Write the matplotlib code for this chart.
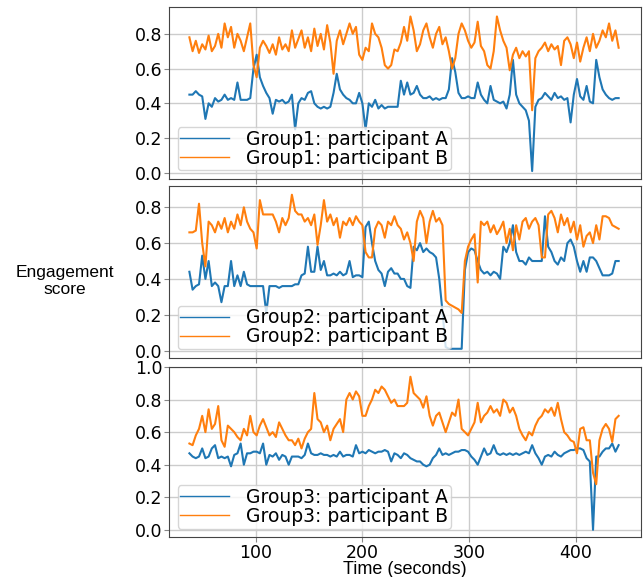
import numpy as np
import matplotlib
matplotlib.use("Agg")
import matplotlib.pyplot as plt

# sampling times (seconds), one value every 3 s
t = np.arange(38, 441, 3)

# Group 1
g1_a = [0.45, 0.45, 0.47, 0.45, 0.44, 0.31, 0.40, 0.38, 0.43, 0.41,
        0.42, 0.45, 0.42, 0.43, 0.42, 0.52, 0.42, 0.42, 0.42, 0.43,
        0.60, 0.68, 0.55, 0.50, 0.46, 0.43, 0.34, 0.42, 0.41, 0.42,
        0.40, 0.41, 0.45, 0.25, 0.40, 0.43, 0.42, 0.46, 0.47, 0.40,
        0.38, 0.37, 0.38, 0.37, 0.38, 0.46, 0.57, 0.48, 0.45, 0.43,
        0.42, 0.40, 0.40, 0.46, 0.40, 0.25, 0.40, 0.38, 0.42, 0.37,
        0.39, 0.37, 0.38, 0.38, 0.38, 0.38, 0.53, 0.45, 0.52, 0.45,
        0.46, 0.50, 0.45, 0.43, 0.43, 0.44, 0.42, 0.43, 0.42, 0.43,
        0.43, 0.48, 0.66, 0.58, 0.46, 0.43, 0.43, 0.44, 0.43, 0.43,
        0.52, 0.45, 0.42, 0.40, 0.50, 0.42, 0.41, 0.40, 0.41, 0.37,
        0.45, 0.65, 0.45, 0.40, 0.38, 0.36, 0.30, 0.01, 0.38, 0.42,
        0.43, 0.46, 0.44, 0.42, 0.46, 0.43, 0.44, 0.42, 0.43, 0.29,
        0.45, 0.54, 0.44, 0.42, 0.50, 0.41, 0.40, 0.65, 0.55, 0.48,
        0.45, 0.43, 0.42, 0.43, 0.43]
g1_b = [0.78, 0.70, 0.76, 0.69, 0.74, 0.71, 0.79, 0.70, 0.73, 0.80,
        0.72, 0.86, 0.78, 0.84, 0.72, 0.80, 0.76, 0.70, 0.78, 0.86,
        0.62, 0.55, 0.72, 0.76, 0.73, 0.69, 0.74, 0.68, 0.78, 0.71,
        0.74, 0.70, 0.82, 0.72, 0.77, 0.82, 0.72, 0.78, 0.70, 0.83,
        0.73, 0.80, 0.71, 0.85, 0.75, 0.57, 0.76, 0.82, 0.74, 0.80,
        0.86, 0.80, 0.84, 0.68, 0.65, 0.72, 0.70, 0.86, 0.80, 0.78,
        0.72, 0.62, 0.60, 0.62, 0.71, 0.70, 0.75, 0.84, 0.76, 0.90,
        0.82, 0.70, 0.74, 0.82, 0.86, 0.78, 0.72, 0.80, 0.84, 0.74,
        0.78, 0.70, 0.60, 0.66, 0.80, 0.86, 0.82, 0.76, 0.72, 0.75,
        0.87, 0.73, 0.70, 0.62, 0.60, 0.70, 0.90, 0.82, 0.76, 0.72,
        0.59, 0.68, 0.72, 0.66, 0.70, 0.67, 0.70, 0.36, 0.66, 0.70,
        0.72, 0.75, 0.70, 0.74, 0.71, 0.73, 0.62, 0.76, 0.78, 0.74,
        0.66, 0.75, 0.64, 0.72, 0.78, 0.70, 0.80, 0.72, 0.76, 0.82,
        0.78, 0.86, 0.76, 0.82, 0.72]

# Group 2
g2_a = [0.44, 0.34, 0.36, 0.37, 0.53, 0.40, 0.50, 0.36, 0.38, 0.36,
        0.27, 0.36, 0.36, 0.50, 0.36, 0.42, 0.36, 0.44, 0.37, 0.36,
        0.36, 0.36, 0.36, 0.36, 0.21, 0.36, 0.36, 0.36, 0.35, 0.36,
        0.36, 0.36, 0.36, 0.37, 0.37, 0.42, 0.43, 0.58, 0.44, 0.44,
        0.58, 0.45, 0.50, 0.42, 0.42, 0.43, 0.42, 0.44, 0.42, 0.43,
        0.50, 0.41, 0.42, 0.42, 0.41, 0.69, 0.72, 0.60, 0.50, 0.45,
        0.43, 0.36, 0.44, 0.46, 0.43, 0.43, 0.40, 0.40, 0.36, 0.35,
        0.58, 0.56, 0.60, 0.55, 0.57, 0.55, 0.54, 0.52, 0.40, 0.22,
        0.02, 0.01, 0.01, 0.01, 0.01, 0.01, 0.45, 0.55, 0.57, 0.56,
        0.50, 0.45, 0.43, 0.44, 0.42, 0.44, 0.43, 0.40, 0.58, 0.55,
        0.60, 0.70, 0.55, 0.50, 0.50, 0.48, 0.52, 0.50, 0.50, 0.50,
        0.50, 0.75, 0.58, 0.55, 0.50, 0.48, 0.52, 0.50, 0.60, 0.62,
        0.58, 0.50, 0.44, 0.50, 0.44, 0.52, 0.52, 0.50, 0.46, 0.42,
        0.42, 0.42, 0.43, 0.50, 0.50]
g2_b = [0.66, 0.66, 0.67, 0.82, 0.60, 0.47, 0.72, 0.70, 0.66, 0.72,
        0.68, 0.74, 0.66, 0.72, 0.68, 0.76, 0.70, 0.80, 0.72, 0.68,
        0.66, 0.57, 0.84, 0.76, 0.76, 0.76, 0.76, 0.72, 0.66, 0.74,
        0.70, 0.74, 0.87, 0.78, 0.76, 0.76, 0.72, 0.74, 0.70, 0.76,
        0.59, 0.70, 0.84, 0.72, 0.76, 0.70, 0.74, 0.63, 0.72, 0.70,
        0.74, 0.70, 0.75, 0.72, 0.70, 0.55, 0.52, 0.52, 0.68, 0.72,
        0.70, 0.63, 0.72, 0.70, 0.75, 0.70, 0.68, 0.62, 0.66, 0.60,
        0.50, 0.72, 0.78, 0.74, 0.60, 0.72, 0.78, 0.72, 0.74, 0.70,
        0.28, 0.26, 0.25, 0.24, 0.23, 0.21, 0.50, 0.58, 0.62, 0.65,
        0.38, 0.72, 0.70, 0.72, 0.66, 0.70, 0.65, 0.68, 0.72, 0.60,
        0.68, 0.56, 0.70, 0.62, 0.72, 0.74, 0.68, 0.72, 0.74, 0.70,
        0.52, 0.52, 0.76, 0.78, 0.74, 0.66, 0.76, 0.70, 0.74, 0.66,
        0.72, 0.62, 0.70, 0.58, 0.64, 0.66, 0.60, 0.70, 0.62, 0.75,
        0.75, 0.74, 0.70, 0.69, 0.68]

# Group 3
g3_a = [0.47, 0.45, 0.44, 0.45, 0.50, 0.44, 0.45, 0.50, 0.52, 0.44,
        0.45, 0.44, 0.45, 0.39, 0.46, 0.47, 0.53, 0.40, 0.47, 0.47,
        0.48, 0.48, 0.47, 0.53, 0.40, 0.46, 0.45, 0.47, 0.43, 0.46,
        0.45, 0.40, 0.45, 0.45, 0.45, 0.44, 0.46, 0.53, 0.47, 0.46,
        0.46, 0.47, 0.46, 0.46, 0.45, 0.46, 0.45, 0.48, 0.45, 0.46,
        0.46, 0.45, 0.52, 0.47, 0.48, 0.47, 0.49, 0.48, 0.47, 0.48,
        0.48, 0.49, 0.48, 0.42, 0.47, 0.46, 0.44, 0.47, 0.46, 0.44,
        0.43, 0.42, 0.42, 0.40, 0.39, 0.40, 0.44, 0.46, 0.50, 0.46,
        0.47, 0.46, 0.47, 0.48, 0.48, 0.49, 0.49, 0.48, 0.45, 0.43,
        0.40, 0.45, 0.50, 0.46, 0.47, 0.52, 0.47, 0.46, 0.47, 0.46,
        0.47, 0.46, 0.47, 0.46, 0.47, 0.48, 0.47, 0.52, 0.47, 0.44,
        0.40, 0.45, 0.46, 0.45, 0.48, 0.46, 0.45, 0.47, 0.48, 0.49,
        0.49, 0.50, 0.50, 0.49, 0.44, 0.42, 0.00, 0.45, 0.45, 0.48,
        0.50, 0.50, 0.53, 0.48, 0.52]
g3_b = [0.53, 0.52, 0.58, 0.62, 0.70, 0.60, 0.74, 0.62, 0.65, 0.76,
        0.55, 0.51, 0.64, 0.62, 0.60, 0.57, 0.55, 0.62, 0.58, 0.70,
        0.60, 0.58, 0.64, 0.68, 0.63, 0.58, 0.60, 0.57, 0.66, 0.62,
        0.58, 0.55, 0.55, 0.52, 0.56, 0.50, 0.56, 0.60, 0.62, 0.84,
        0.68, 0.66, 0.60, 0.64, 0.55, 0.62, 0.65, 0.68, 0.60, 0.80,
        0.84, 0.80, 0.85, 0.82, 0.70, 0.70, 0.76, 0.80, 0.86, 0.84,
        0.88, 0.86, 0.82, 0.78, 0.80, 0.76, 0.76, 0.76, 0.78, 0.94,
        0.84, 0.82, 0.80, 0.75, 0.82, 0.70, 0.64, 0.70, 0.72, 0.66,
        0.60, 0.66, 0.72, 0.70, 0.80, 0.62, 0.60, 0.58, 0.62, 0.66,
        0.78, 0.66, 0.70, 0.72, 0.76, 0.72, 0.74, 0.70, 0.80, 0.78,
        0.72, 0.75, 0.70, 0.62, 0.58, 0.55, 0.60, 0.58, 0.64, 0.68,
        0.70, 0.74, 0.72, 0.75, 0.70, 0.78, 0.68, 0.60, 0.58, 0.55,
        0.54, 0.47, 0.62, 0.63, 0.55, 0.55, 0.35, 0.28, 0.55, 0.62,
        0.65, 0.62, 0.54, 0.68, 0.70]

groups = ["Group1", "Group2", "Group3"]
series = [(g1_a, g1_b), (g2_a, g2_b), (g3_a, g3_b)]
ylims = [(-0.035, 0.955), (-0.04, 0.92), (-0.045, 1.0)]
yticks = [np.arange(0, 0.81, 0.2), np.arange(0, 0.81, 0.2), np.arange(0, 1.01, 0.2)]

fig = plt.figure(figsize=(6.43, 5.77), dpi=100)
boxes = [(0.263, 0.690, 0.734, 0.298),
         (0.263, 0.380, 0.734, 0.298),
         (0.263, 0.069, 0.734, 0.295)]

for i, (name, (a, b)) in enumerate(zip(groups, series)):
    ax = fig.add_axes(boxes[i])
    ax.plot(t, a, color="tab:blue", lw=1.5, label=f"{name}: participant A")
    ax.plot(t, b, color="tab:orange", lw=1.5, label=f"{name}: participant B")
    ax.set_xlim(19, 461)
    ax.set_ylim(*ylims[i])
    ax.set_yticks(yticks[i])
    ax.set_yticklabels([f"{v:.1f}" for v in yticks[i]])
    ax.set_xticks([100, 200, 300, 400])
    ax.grid(True, color="#cccccc", lw=1)
    ax.tick_params(labelsize=12.5, pad=1.5, color="#888888")
    for s in ax.spines.values():
        s.set_color("#444444")
    if i < 2:
        ax.tick_params(labelbottom=False)
    leg = ax.legend(loc="lower left", fontsize=13.5, handlelength=2.6,
                    handletextpad=0.9, labelspacing=0.0, borderpad=0.15,
                    borderaxespad=0.45)
    for line in leg.get_lines():
        line.set_linewidth(1.0)

fig.text(0.101, 0.513, "Engagement\nscore", ha="center", va="center",
         fontsize=12.5, family="Liberation Sans")
fig.text(0.630, 0.013, "Time (seconds)", ha="center", va="center",
         fontsize=13, family="Liberation Sans")

fig.savefig("out.png", dpi=100)
